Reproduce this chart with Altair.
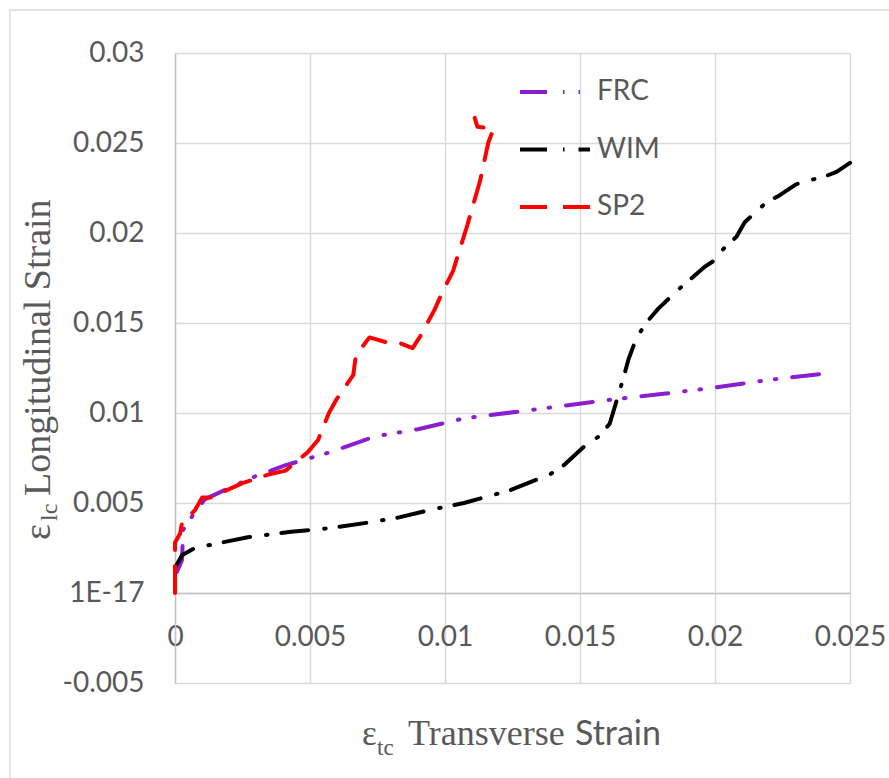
import altair as alt
import pandas as pd

# Series definitions
series_names = ["FRC", "WIM", "SP2"]
series_colors = ["#8B1ECF", "#000000", "#FF0000"]
series_dashes = [[27, 16, 1.5, 14, 1.5, 16], [27, 16, 1.5, 14], [27, 16]]

frc_x = [0.00007, 0.00026, 0.0003, 0.00074, 0.0011, 0.0021, 0.003, 0.0041, 0.0057,
         0.0074, 0.009, 0.0107, 0.0139, 0.0159, 0.0183, 0.0199, 0.0218, 0.0241]
frc_y = [0.00117, 0.00183, 0.0035, 0.0045, 0.0052, 0.0059, 0.0065, 0.0071, 0.0078,
         0.0087, 0.0091, 0.0097, 0.0103, 0.0107, 0.0111, 0.0114, 0.0118, 0.0122]

wim_x = [0.0, 0.00026, 0.00074, 0.0027, 0.0043, 0.0057, 0.0071, 0.0083, 0.0094, 0.0107,
         0.0124, 0.0139, 0.0144, 0.0152, 0.0157, 0.0161, 0.0164, 0.0166, 0.0168, 0.0171,
         0.0175, 0.0179, 0.0186, 0.0196, 0.02, 0.0203, 0.0208, 0.0211, 0.0219, 0.0224,
         0.023, 0.0234, 0.024, 0.0245, 0.025]
wim_y = [0.0014, 0.0021, 0.0025, 0.0031, 0.0034, 0.0036, 0.0039, 0.0042, 0.0046, 0.005,
         0.0057, 0.0066, 0.0071, 0.0082, 0.0087, 0.0094, 0.0109, 0.0119, 0.0130, 0.0142,
         0.0151, 0.0158, 0.0168, 0.0181, 0.0185, 0.0191, 0.0198, 0.0206, 0.0217, 0.0221,
         0.0227, 0.0229, 0.0231, 0.0234, 0.0239]

sp2_x = [0.0, 0.0, 0.00019, 0.00026, 0.00074, 0.001, 0.0014, 0.0019, 0.0025, 0.0035,
         0.0041, 0.0049, 0.0053, 0.0057, 0.006, 0.0066, 0.0067, 0.0072, 0.0079, 0.0083,
         0.0088, 0.0091, 0.0096, 0.0099, 0.0103, 0.0108, 0.0113, 0.0116, 0.0118, 0.0112,
         0.0111]
sp2_y = [0.0, 0.0028, 0.0033, 0.0039, 0.0046, 0.0053, 0.0053, 0.0057, 0.0061, 0.0066,
         0.0068, 0.0078, 0.0085, 0.01, 0.0108, 0.0121, 0.0132, 0.0142, 0.0139, 0.0139,
         0.0136, 0.0143, 0.0157, 0.0167, 0.0179, 0.0203, 0.0229, 0.025, 0.0258, 0.0259,
         0.0264]

# Axis ticks and their labels
x_ticks = [0, 0.005, 0.01, 0.015, 0.02, 0.025]
x_tick_labels = ["0", "0.005", "0.01", "0.015", "0.02", "0.025"]
y_ticks = [-0.005, 0, 0.005, 0.01, 0.015, 0.02, 0.025, 0.03]
y_tick_labels = ["-0.005", "1E-17", "0.005", "0.01", "0.015", "0.02", "0.025", "0.03"]

GREY_TEXT = "#595959"
GRID = "#d9d9d9"
PLOT_W, PLOT_H = 675, 630
X_DOMAIN = [0, 0.025]
Y_DOMAIN = [-0.005, 0.03]


def label_expr(values, labels):
    parts = [f"abs(datum.value - ({v})) < 1e-9 ? '{t}'" for v, t in zip(values, labels)]
    return " : ".join(parts) + " : ''"


rows = []
for name, xs, ys in [("FRC", frc_x, frc_y), ("WIM", wim_x, wim_y), ("SP2", sp2_x, sp2_y)]:
    for i, (xv, yv) in enumerate(zip(xs, ys)):
        rows.append({"series": name, "idx": i, "x": xv, "y": yv})
df = pd.DataFrame(rows)

# x axis sits on the y = 0 line
x_axis_offset = -PLOT_H * (0 - Y_DOMAIN[0]) / (Y_DOMAIN[1] - Y_DOMAIN[0])

lines = alt.Chart(df).mark_line(strokeWidth=4, strokeCap="round", strokeJoin="round").encode(
    x=alt.X("x:Q", scale=alt.Scale(domain=X_DOMAIN, nice=False, zero=False),
            axis=alt.Axis(values=x_ticks, labelExpr=label_expr(x_ticks, x_tick_labels),
                          offset=x_axis_offset, title=None, ticks=False, labelPadding=30,
                          labelFlush=False, labelOverlap=False, domainColor="#c4c4c4",
                          domainWidth=1.4)),
    y=alt.Y("y:Q", scale=alt.Scale(domain=Y_DOMAIN, nice=False, zero=False),
            axis=alt.Axis(values=y_ticks, labelExpr=label_expr(y_ticks, y_tick_labels),
                          title=None, ticks=False, labelPadding=31, labelFlush=False,
                          labelOverlap=False, domainColor="#c4c4c4", domainWidth=1.4)),
    color=alt.Color("series:N", scale=alt.Scale(domain=series_names, range=series_colors),
                    legend=alt.Legend(orient="none", legendX=343, legendY=2, title=None,
                                      symbolType="stroke", symbolSize=4900,
                                      symbolStrokeWidth=4, labelOffset=5, rowPadding=6.5,
                                      labelFont="Lato", labelFontSize=28,
                                      labelColor=GREY_TEXT, padding=0)),
    strokeDash=alt.StrokeDash("series:N",
                              scale=alt.Scale(domain=series_names, range=series_dashes),
                              legend=None),
    order="idx:Q",
)

one = pd.DataFrame({"a": [0]})

# Outer chart frame
frame = alt.Chart(one).mark_rect(filled=False, stroke=GRID, strokeWidth=1.3).encode(
    x=alt.value(-165), x2=alt.value(730), y=alt.value(-43), y2=alt.value(740)
)


def text_piece(text, x, y, size, font, angle=0):
    return alt.Chart(one).mark_text(
        text=text, font=font, fontSize=size, align="left", baseline="alphabetic",
        angle=angle, color=GREY_TEXT
    ).encode(x=alt.value(x), y=alt.value(y))


x_title = [
    text_piece("ε", 187, 692, 35, "Liberation Serif"),
    text_piece("tc", 202, 702, 23, "Liberation Serif"),
    text_piece("Transverse", 233, 692, 36, "Liberation Serif"),
    text_piece("Strain", 400, 692, 34, "Lato"),
]
y_title = [
    text_piece("ε", -125, 487, 38, "Liberation Serif", 270),
    text_piece("lc", -118, 468, 24, "Liberation Serif", 270),
    text_piece("Longitudinal Strain", -125, 443, 38, "Liberation Serif", 270),
]

chart = alt.layer(frame, lines, *x_title, *y_title).properties(
    width=PLOT_W, height=PLOT_H,
    autosize=alt.AutoSizeParams(type="none"),
    padding={"left": 175, "top": 53, "right": 39, "bottom": 95},
    background="white",
).configure_view(stroke=None).configure_axis(
    labelFont="Lato", labelFontSize=28, labelColor=GREY_TEXT,
    gridColor=GRID, gridWidth=1.4,
)

chart.save("out.html", embed_options={"renderer": "svg", "actions": False})
